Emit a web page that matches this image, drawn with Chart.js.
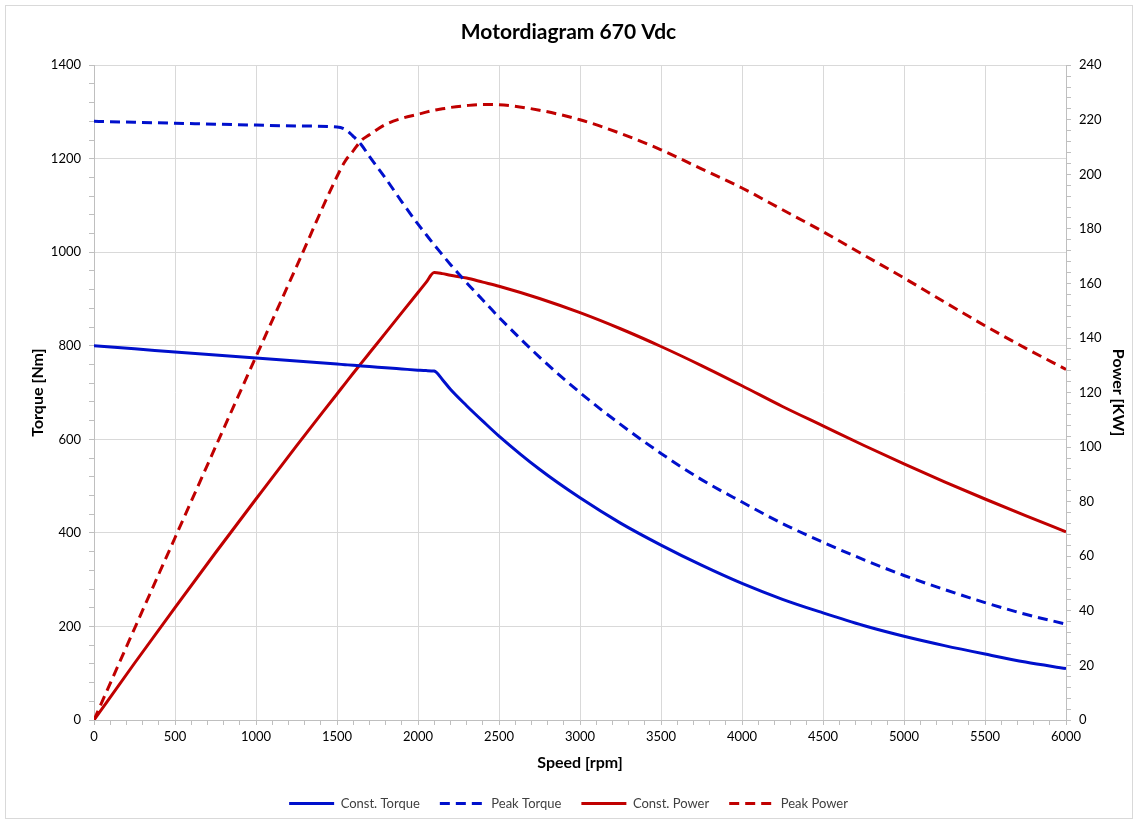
<!DOCTYPE html>
<html>
<head>
<meta charset="utf-8">
<script src="https://cdn.jsdelivr.net/npm/chart.js@4/dist/chart.umd.min.js"></script>
<style>
  html, body { margin: 0; padding: 0; background: #fff; }
  #wrap { position: relative; width: 1137px; height: 823px; }
  #frame { position: absolute; left: 5px; top: 5px; width: 1126px; height: 812px; border: 1px solid #d9d9d9; pointer-events: none; }
</style>
</head>
<body>
<div id="wrap">
  <canvas id="chart" width="1137" height="823"></canvas>
  <div id="frame"></div>
</div>
<script>
const speeds = [0, 250, 500, 750, 1000, 1250, 1500, 1550, 1600, 1650, 1700, 1800, 1900, 2000, 2050, 2100, 2150, 2200, 2300, 2400, 2500, 2750, 3000, 3250, 3500, 3750, 4000, 4250, 4500, 4750, 5000, 5250, 5500, 5750, 6000];

const constTorque = [800, 793.5, 787, 780.5, 774, 767.5, 761, 759.7, 758.4, 757, 755.8, 753, 750.5, 748, 747, 746, 728, 707, 672, 639, 607, 536, 475, 421, 374, 331, 292, 258, 229, 202, 179, 159, 141, 124, 110];
const peakTorque = [1280, 1278, 1276, 1274, 1272, 1270, 1268, 1263, 1248, 1230, 1205, 1158, 1108, 1060, 1038, 1016, 995, 974, 935, 898, 861, 776, 700, 632, 570, 514, 466, 420, 380, 343, 309, 279, 251, 226, 205];
const constPower = [0, 20.8, 41.2, 61.3, 81.0, 100.5, 119.5, 123.3, 127.1, 130.8, 134.5, 141.9, 149.3, 156.7, 160.4, 164.0, 163.6, 163.0, 162.0, 160.5, 159.0, 154.5, 149.3, 143.4, 136.9, 129.9, 122.5, 114.9, 107.8, 100.7, 93.9, 87.3, 81.0, 74.9, 69.0];
const peakPower = [0, 33.5, 66.8, 100.1, 133.2, 166.2, 199.2, 204.8, 208.6, 212.4, 214.5, 218.3, 220.5, 222.0, 222.8, 223.5, 224.0, 224.5, 225.2, 225.6, 225.5, 223.5, 220.0, 215.0, 209.0, 202.0, 195.0, 187.0, 179.0, 170.5, 162.0, 153.2, 144.5, 136.3, 128.5];

const seriesNames = ['Const. Torque', 'Peak Torque', 'Const. Power', 'Peak Power'];
const BLUE = '#0010CC';
const RED = '#C00000';
const FONT = 'Lato, "Liberation Sans", sans-serif';

function pts(vals) {
  return speeds.map((s, i) => ({ x: s, y: vals[i] }));
}

function line(label, vals, color, dashed, axis) {
  return {
    label,
    data: pts(vals),
    yAxisID: axis,
    borderColor: color,
    backgroundColor: color,
    borderWidth: 3,
    borderDash: dashed ? [10, 6] : [],
    pointRadius: 0,
    cubicInterpolationMode: 'monotone',
    fill: false,
  };
}

const GRID = '#d9d9d9';
const AXIS = '#bfbfbf';

// legend samples should keep the dataset's dash pattern
function legendLabels(chart) {
  const items = Chart.defaults.plugins.legend.labels.generateLabels(chart);
  items.forEach((it) => {
    const ds = chart.data.datasets[it.datasetIndex];
    it.lineDash = ds.borderDash;
    it.lineWidth = 3;
    it.strokeStyle = ds.borderColor;
  });
  return items;
}

new Chart(document.getElementById('chart'), {
  type: 'line',
  data: {
    datasets: [
      line(seriesNames[0], constTorque, BLUE, false, 'y'),
      line(seriesNames[1], peakTorque, BLUE, true, 'y'),
      line(seriesNames[2], constPower, RED, false, 'y1'),
      line(seriesNames[3], peakPower, RED, true, 'y1'),
    ],
  },
  options: {
    responsive: false,
    animation: false,
    layout: { padding: { left: 0, right: 0, top: 0, bottom: 3 } },
    plugins: {
      title: {
        display: true,
        text: 'Motordiagram 670 Vdc',
        color: '#000',
        font: { family: FONT, size: 21, weight: 'bold' },
        padding: { top: 20, bottom: 20 },
      },
      legend: {
        position: 'bottom',
        labels: {
          usePointStyle: true,
          pointStyle: 'line',
          pointStyleWidth: 45,
          color: '#404040',
          font: { family: FONT, size: 13 },
          padding: 20,
          generateLabels: legendLabels,
        },
      },
      tooltip: { enabled: false },
    },
    scales: {
      x: {
        type: 'linear',
        min: 0,
        max: 6000,
        ticks: {
          stepSize: 100,
          autoSkip: false,
          maxRotation: 0,
          color: '#000',
          font: { family: FONT, size: 13 },
          padding: 4,
          callback: (v) => (v % 500 === 0 ? v : ''),
        },
        grid: {
          color: (c) => (c.tick && c.tick.value % 500 === 0 ? GRID : 'transparent'),
          tickColor: AXIS,
          tickLength: 5,
        },
        border: { color: AXIS },
        title: { display: true, text: 'Speed [rpm]', color: '#000', font: { family: FONT, size: 16, weight: 'bold' }, padding: { top: 2, bottom: 5 } },
        afterFit: (s) => { s.height = 57; },
      },
      y: {
        position: 'left',
        min: 0,
        max: 1400,
        ticks: {
          stepSize: 40,
          autoSkip: false,
          color: '#000',
          font: { family: FONT, size: 13 },
          padding: 8,
          callback: (v) => (v % 200 === 0 ? v : ''),
        },
        grid: {
          color: (c) => (c.tick && c.tick.value % 200 === 0 ? GRID : 'transparent'),
          tickColor: AXIS,
          tickLength: 5,
        },
        border: { color: AXIS },
        title: { display: true, text: 'Torque [Nm]', color: '#000', font: { family: FONT, size: 16, weight: 'bold' }, padding: { top: 28 } },
        afterFit: (s) => { s.width = 94; },
      },
      y1: {
        position: 'right',
        min: 0,
        max: 240,
        ticks: {
          stepSize: 4,
          autoSkip: false,
          color: '#000',
          font: { family: FONT, size: 13 },
          padding: 8,
          callback: (v) => (v % 20 === 0 ? v : ''),
        },
        grid: {
          drawOnChartArea: false,
          tickColor: AXIS,
          tickLength: 5,
        },
        border: { color: AXIS },
        title: { display: true, text: 'Power [KW]', color: '#000', font: { family: FONT, size: 16, weight: 'bold' }, padding: { top: 9 } },
        afterFit: (s) => { s.width = 71; },
      },
    },
  },
});
</script>
</body>
</html>
